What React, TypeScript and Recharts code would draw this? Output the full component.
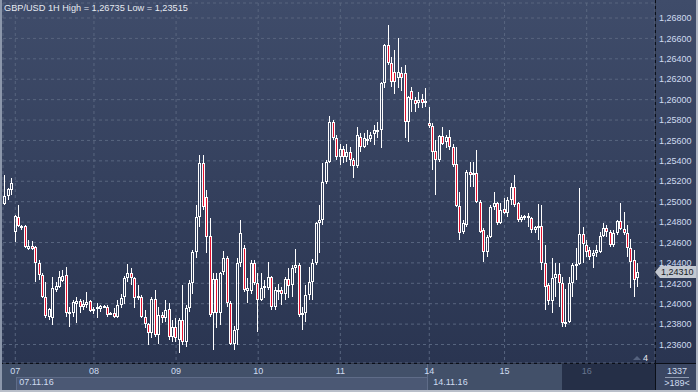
import React from 'react';
import { ComposedChart, Bar, XAxis, YAxis, CartesianGrid, ReferenceLine } from 'recharts';

type OHLC = [number, number, number, number]; // open, high, low, close

const symbol = 'GBP/USD';
const timeframe = '1H';

const sun06: OHLC[] = [
  [1.2498, 1.2526, 1.2497, 1.2506],
  [1.2506, 1.2513, 1.2502, 1.2512],
  [1.2511, 1.2523, 1.2507, 1.2518],
];
const day07: OHLC[] = [
  [1.2470, 1.2487, 1.2460, 1.2486], [1.2485, 1.2497, 1.2475, 1.2476], [1.2474, 1.2477, 1.2472, 1.2476],
  [1.2476, 1.2477, 1.2455, 1.2456], [1.2454, 1.2462, 1.2453, 1.2457], [1.2457, 1.2461, 1.2453, 1.2454],
  [1.2456, 1.2457, 1.2421, 1.2440], [1.2440, 1.2443, 1.2423, 1.2428], [1.2428, 1.2430, 1.2406, 1.2407],
  [1.2407, 1.2421, 1.2386, 1.2388], [1.2387, 1.2396, 1.2384, 1.2395], [1.2386, 1.2426, 1.2379, 1.2415],
  [1.2413, 1.2421, 1.2411, 1.2417], [1.2416, 1.2432, 1.2415, 1.2426], [1.2422, 1.2433, 1.2421, 1.2427],
  [1.2428, 1.2436, 1.2387, 1.2391], [1.2391, 1.2397, 1.2377, 1.2392], [1.2391, 1.2404, 1.2387, 1.2402],
  [1.2400, 1.2407, 1.2381, 1.2403], [1.2403, 1.2405, 1.2391, 1.2397], [1.2397, 1.2404, 1.2394, 1.2400],
  [1.2399, 1.2411, 1.2396, 1.2402], [1.2403, 1.2404, 1.2392, 1.2393],
];
const day08: OHLC[] = [
  [1.2393, 1.2397, 1.2390, 1.2395], [1.2395, 1.2401, 1.2386, 1.2397], [1.2395, 1.2399, 1.2392, 1.2398],
  [1.2397, 1.2399, 1.2396, 1.2398], [1.2397, 1.2399, 1.2387, 1.2389], [1.2391, 1.2392, 1.2389, 1.2390],
  [1.2391, 1.2396, 1.2386, 1.2387], [1.2387, 1.2404, 1.2386, 1.2399], [1.2399, 1.2410, 1.2396, 1.2406],
  [1.2407, 1.2427, 1.2400, 1.2425], [1.2425, 1.2439, 1.2421, 1.2430], [1.2430, 1.2435, 1.2418, 1.2425],
  [1.2425, 1.2426, 1.2396, 1.2406], [1.2406, 1.2418, 1.2404, 1.2408], [1.2407, 1.2409, 1.2386, 1.2387],
  [1.2387, 1.2394, 1.2376, 1.2380], [1.2380, 1.2381, 1.2360, 1.2371], [1.2371, 1.2407, 1.2366, 1.2405],
  [1.2405, 1.2413, 1.2367, 1.2369], [1.2369, 1.2397, 1.2361, 1.2389], [1.2389, 1.2392, 1.2381, 1.2386],
  [1.2386, 1.2404, 1.2382, 1.2394], [1.2395, 1.2401, 1.2364, 1.2367], [1.2367, 1.2384, 1.2362, 1.2377],
];
const day09: OHLC[] = [
  [1.2377, 1.2386, 1.2362, 1.2366], [1.2364, 1.2386, 1.23515, 1.2384], [1.2384, 1.2418, 1.2360, 1.2362],
  [1.2362, 1.2399, 1.2358, 1.2396], [1.2396, 1.2423, 1.2392, 1.2420], [1.2420, 1.2453, 1.2410, 1.2451],
  [1.2451, 1.2497, 1.2445, 1.2485], [1.2485, 1.2546, 1.2475, 1.2538], [1.2538, 1.2546, 1.2492, 1.2495],
  [1.2505, 1.2511, 1.2450, 1.2465], [1.2466, 1.2484, 1.2387, 1.2389], [1.2391, 1.2430, 1.2355, 1.2424],
  [1.2424, 1.2430, 1.2376, 1.2391], [1.2391, 1.2431, 1.2379, 1.2430], [1.2431, 1.2452, 1.2428, 1.2445],
  [1.2445, 1.2447, 1.2397, 1.2401], [1.2401, 1.2403, 1.2360, 1.2361], [1.2361, 1.2378, 1.2355, 1.2374],
  [1.2374, 1.2445, 1.2360, 1.2440], [1.2440, 1.2482, 1.2436, 1.2469], [1.2455, 1.2458, 1.2411, 1.2413],
  [1.2412, 1.2425, 1.2401, 1.2415], [1.2412, 1.2443, 1.2410, 1.2440], [1.2440, 1.2443, 1.2418, 1.2420],
];
const day10: OHLC[] = [
  [1.2420, 1.2430, 1.2372, 1.2404], [1.2404, 1.2430, 1.2403, 1.2415], [1.2415, 1.2423, 1.2406, 1.2417],
  [1.2415, 1.2441, 1.2413, 1.2426], [1.2426, 1.2427, 1.2394, 1.2397], [1.2397, 1.2416, 1.2394, 1.2413],
  [1.2411, 1.2419, 1.2404, 1.2413], [1.2413, 1.2416, 1.2399, 1.2410], [1.2410, 1.2426, 1.2404, 1.2424],
  [1.2424, 1.2435, 1.2406, 1.2417], [1.2418, 1.2438, 1.2407, 1.2435], [1.2435, 1.2454, 1.2430, 1.2438],
  [1.2438, 1.2440, 1.2387, 1.2389], [1.2389, 1.2397, 1.2374, 1.2391], [1.2391, 1.2418, 1.2382, 1.2409],
  [1.2409, 1.2436, 1.2404, 1.2421], [1.2421, 1.2444, 1.2404, 1.2440], [1.2440, 1.2480, 1.2438, 1.2479],
  [1.2479, 1.2497, 1.2450, 1.2482], [1.2482, 1.2538, 1.2477, 1.2519], [1.2519, 1.2541, 1.2517, 1.2539],
  [1.2539, 1.2584, 1.2538, 1.2578], [1.2578, 1.2580, 1.2560, 1.2562], [1.2562, 1.2565, 1.2541, 1.2544],
];
const day11: OHLC[] = [
  [1.2544, 1.2557, 1.2536, 1.2552], [1.2552, 1.2555, 1.2538, 1.2544], [1.2544, 1.2557, 1.2539, 1.2549],
  [1.2549, 1.2554, 1.2535, 1.2541], [1.2541, 1.2543, 1.2523, 1.2535], [1.2535, 1.2573, 1.2533, 1.2565],
  [1.2563, 1.2567, 1.2549, 1.2554], [1.2554, 1.2567, 1.2553, 1.2562], [1.2560, 1.2570, 1.2556, 1.2561],
  [1.2561, 1.2568, 1.2558, 1.2565], [1.2566, 1.2575, 1.2556, 1.2570], [1.2569, 1.2578, 1.2562, 1.2570],
  [1.2570, 1.2617, 1.2553, 1.2616], [1.2616, 1.2655, 1.2611, 1.2654], [1.2654, 1.26735, 1.2634, 1.2636],
  [1.2636, 1.2642, 1.2612, 1.2617], [1.2627, 1.2649, 1.2606, 1.2617], [1.2621, 1.2660, 1.2611, 1.2627],
  [1.2626, 1.2632, 1.2608, 1.2621], [1.2626, 1.2634, 1.2562, 1.2578], [1.2578, 1.2604, 1.2558, 1.2603],
  [1.2608, 1.2612, 1.2588, 1.2600], [1.2600, 1.2603, 1.2588, 1.2596], [1.2597, 1.2607, 1.2592, 1.2600],
  [1.2601, 1.2606, 1.2592, 1.2597], [1.2597, 1.2611, 1.2593, 1.2599],
];
const day14: OHLC[] = [
  [1.2577, 1.2593, 1.2572, 1.2574], [1.2574, 1.2577, 1.2531, 1.2549], [1.2550, 1.2560, 1.2507, 1.2541],
  [1.2541, 1.2565, 1.2539, 1.2564], [1.2564, 1.2573, 1.2556, 1.2557], [1.2558, 1.2565, 1.2553, 1.2563],
  [1.2563, 1.2570, 1.2551, 1.2554], [1.2554, 1.2557, 1.2534, 1.2536], [1.2537, 1.2554, 1.2495, 1.2496],
  [1.2496, 1.2509, 1.2462, 1.2469], [1.2470, 1.2482, 1.2468, 1.2479], [1.2477, 1.2531, 1.2475, 1.2529],
  [1.2529, 1.2539, 1.2514, 1.2526], [1.2526, 1.2539, 1.2514, 1.2528], [1.2528, 1.2551, 1.2499, 1.2500],
  [1.2500, 1.2502, 1.2469, 1.2470], [1.2472, 1.2474, 1.2441, 1.2451], [1.2451, 1.2467, 1.2446, 1.2465],
  [1.2465, 1.2497, 1.2464, 1.2495], [1.2495, 1.2509, 1.2492, 1.2499], [1.2499, 1.2500, 1.2477, 1.2479],
  [1.2479, 1.2499, 1.2478, 1.2492],
];
const day15: OHLC[] = [
  [1.2493, 1.2504, 1.2488, 1.2489], [1.2489, 1.2505, 1.2485, 1.2502], [1.2502, 1.2518, 1.2497, 1.2514],
  [1.2514, 1.2526, 1.2495, 1.2497], [1.2499, 1.2500, 1.2480, 1.2482], [1.2482, 1.2487, 1.2480, 1.2485],
  [1.2485, 1.2487, 1.2482, 1.2486], [1.2486, 1.2489, 1.2475, 1.2484], [1.2484, 1.2485, 1.2469, 1.2472],
  [1.2472, 1.2476, 1.2469, 1.2475], [1.2474, 1.2498, 1.2462, 1.2476], [1.2476, 1.2497, 1.2433, 1.2440],
  [1.2440, 1.2458, 1.2394, 1.2416], [1.2418, 1.2420, 1.2399, 1.2403], [1.2403, 1.2445, 1.2391, 1.2425],
  [1.2425, 1.2440, 1.2407, 1.2429], [1.2429, 1.2440, 1.2397, 1.2420], [1.2420, 1.2426, 1.2377, 1.2381],
  [1.2381, 1.2414, 1.2377, 1.2382], [1.2382, 1.2426, 1.2381, 1.2420], [1.2420, 1.2440, 1.2407, 1.2438],
  [1.2438, 1.2455, 1.2423, 1.2439], [1.2439, 1.2513, 1.2438, 1.2468], [1.2468, 1.2475, 1.2440, 1.2459],
];
const day16: OHLC[] = [
  [1.2458, 1.2462, 1.2446, 1.2451], [1.2453, 1.2456, 1.2443, 1.2446], [1.2447, 1.2453, 1.2435, 1.2450],
  [1.2450, 1.2458, 1.2446, 1.2453], [1.2451, 1.2470, 1.2450, 1.2466], [1.2466, 1.2479, 1.2465, 1.2474],
  [1.2474, 1.2477, 1.2465, 1.2470], [1.2470, 1.2472, 1.2456, 1.2458], [1.2458, 1.2472, 1.2456, 1.2469],
  [1.2469, 1.2482, 1.2467, 1.2481], [1.2481, 1.2499, 1.2472, 1.2473], [1.2473, 1.2490, 1.2467, 1.2469],
  [1.2469, 1.2477, 1.2446, 1.2455], [1.2455, 1.2463, 1.2415, 1.2441], [1.2443, 1.2453, 1.2407, 1.2423],
  [1.2425, 1.2440, 1.2416, 1.2431],
];

const segments: OHLC[][] = [sun06, day07, day08, day09, day10, day11, day14, day15, day16];
const segmentLabels = ['', '07', '08', '09', '10', '11', '14', '15', '16'];
const weekLabels: Record<string, string> = { '07': '07.11.16', '14': '14.11.16' };
const priceTicks = [1.236, 1.238, 1.24, 1.242, 1.244, 1.246, 1.248, 1.25, 1.252, 1.254, 1.256, 1.258, 1.26, 1.262, 1.264, 1.266, 1.268];
const priceDomain = [1.23419, 1.26947];
const xDomain = [-0.585, 189.97];
const barCountText = '1337';
const visibleText = '>189<';
const markerText = '4';

type Row = { i: number; o: number; h: number; l: number; c: number; range: [number, number] };
const data: Row[] = [];
const dayTicks: number[] = [];
const dayTickLabel: Record<number, string> = {};
const weekTicks: number[] = [];
const weekTickLabel: Record<number, string> = {};
segments.forEach((seg, s) => {
  const label = segmentLabels[s];
  if (label) {
    dayTicks.push(data.length);
    dayTickLabel[data.length] = label;
    if (weekLabels[label]) {
      weekTicks.push(data.length);
      weekTickLabel[data.length] = weekLabels[label];
    }
  }
  seg.forEach(([o, h, l, c]) => data.push({ i: data.length, o, h, l, c, range: [l, h] }));
});

const maxHigh = Math.max(...data.map((d) => d.h));
const minLow = Math.min(...data.map((d) => d.l));
const lastClose = data[data.length - 1].c;
const fmt = (v: number) => v.toFixed(5).replace('.', ',');

const FONT = '"Liberation Sans", Arial, sans-serif';
const RED = '#e3122f';
const TICK = '#cfdcf0';

function Candle(props: any) {
  const { x, y, width, height, payload } = props;
  if (!payload || x == null || y == null || height == null) return null;
  const { o, h, l, c } = payload as Row;
  const top = Math.min(y, y + height);
  const bot = Math.max(y, y + height);
  const span = h - l;
  const py = (v: number) => (span > 0 ? top + ((h - v) / span) * (bot - top) : top);
  const cx = Math.floor(x + width / 2);
  const yH = Math.round(top);
  const yL = Math.round(bot);
  const bTop = Math.round(py(Math.max(o, c)));
  let bBot = Math.round(py(Math.min(o, c)));
  if (bBot - bTop < 2) bBot = bTop + 2;
  const bear = c < o;
  return (
    <g>
      {bTop > yH && <line x1={cx + 0.5} x2={cx + 0.5} y1={yH} y2={bTop} stroke="#ffffff" strokeWidth={1} />}
      {yL > bBot && <line x1={cx + 0.5} x2={cx + 0.5} y1={bBot} y2={yL} stroke="#ffffff" strokeWidth={1} />}
      <rect x={cx - 0.5} y={bTop + 0.5} width={2} height={bBot - bTop - 1} fill={bear ? RED : 'none'} stroke="#ffffff" strokeWidth={1} />
    </g>
  );
}

function DayTick(props: any) {
  const { x, y, payload } = props;
  const last = payload.value === dayTicks[dayTicks.length - 1];
  return (
    <text x={x} y={y} dy="0.71em" textAnchor="middle" fill={last ? '#67758f' : TICK} fontSize={9} fontFamily={FONT}>
      {dayTickLabel[payload.value]}
    </text>
  );
}

function WeekTick(props: any) {
  const { x, y, payload } = props;
  return (
    <text x={x + 4} y={y} dy="0.71em" textAnchor="start" fill={TICK} fontSize={9} fontFamily={FONT}>
      {weekTickLabel[payload.value]}
    </text>
  );
}

function PriceTag(props: any) {
  const vb = props.viewBox || {};
  const y = vb.y;
  const x0 = (vb.x || 0) + (vb.width || 0);
  if (y == null) return null;
  return (
    <g>
      <polygon points={`${x0},${y} ${x0 + 5},${y - 6} ${x0 + 41},${y - 6} ${x0 + 41},${y + 6} ${x0 + 5},${y + 6}`} fill="#c3c8d1" />
      <text x={x0 + 6} y={y} dy="0.355em" fill="#151a24" fontSize={9} fontFamily={FONT}>
        {fmt(lastClose)}
      </text>
    </g>
  );
}

const abs = (l: number, t: number, w: number, h: number, extra: React.CSSProperties = {}): React.CSSProperties => ({
  position: 'absolute',
  left: l,
  top: t,
  width: w,
  height: h,
  ...extra,
});

export default function App() {
  return (
    <div style={{ position: 'fixed', left: 0, top: 0, width: 698, height: 392, overflow: 'hidden', background: '#3a4662' }}>
      <div style={abs(0, 0, 698, 363, { background: 'linear-gradient(to bottom, #3f4c6a, #2a3551)' })} />
      <div style={abs(0, 364, 698, 28, { background: '#425069' })} />
      <div style={abs(16, 377, 411, 13, { background: '#4b5874', borderTop: '1px solid #5f6c88', borderLeft: '1px solid #5f6c88', boxSizing: 'border-box' })} />
      <div style={abs(427, 364, 1, 28, { background: '#5f6c88' })} />
      <div style={abs(562, 364, 93, 26, { background: '#252f47' })} />
      <div style={abs(656, 364, 42, 28, { background: '#3a4662' })} />
      <div style={abs(0, 363, 698, 1, { background: '#0b0f18' })} />
      <div style={abs(655, 0, 1, 392, { background: '#0b0f18' })} />

      <div style={abs(0, 0, 698, 392)}>
        <ComposedChart width={698} height={392} data={data} margin={{ top: 3, right: 0, bottom: 0, left: 3 }}>
          <CartesianGrid stroke="#58657f" strokeDasharray="3 3" />
          <XAxis
            xAxisId={0}
            dataKey="i"
            type="number"
            domain={xDomain}
            allowDataOverflow
            ticks={dayTicks}
            interval={0}
            height={14}
            tickSize={0}
            tickMargin={5}
            tickLine={false}
            axisLine={false}
            tick={<DayTick />}
          />
          <XAxis
            xAxisId="weeks"
            dataKey="i"
            type="number"
            domain={xDomain}
            allowDataOverflow
            ticks={weekTicks}
            interval={0}
            height={15}
            tickSize={0}
            tickMargin={2}
            tickLine={false}
            axisLine={false}
            tick={<WeekTick />}
          />
          <YAxis
            orientation="right"
            type="number"
            domain={priceDomain}
            allowDataOverflow
            ticks={priceTicks}
            interval={0}
            width={43}
            tickSize={0}
            tickMargin={4}
            tickLine={false}
            axisLine={false}
            tickFormatter={fmt}
            tick={{ fill: TICK, fontSize: 9, fontFamily: FONT }}
          />
          <Bar dataKey="range" barSize={3} shape={<Candle />} isAnimationActive={false} />
          <ReferenceLine y={lastClose} stroke="none" label={(p: any) => <PriceTag {...p} />} />
        </ComposedChart>
      </div>

      <svg width={698} height={392} style={{ position: 'absolute', left: 0, top: 0, pointerEvents: 'none' }}>
        <text x={4} y={11} fill="#e6eaf1" fontSize={9.2} fontFamily={FONT}>
          {`${symbol} ${timeframe} High = ${fmt(maxHigh)} Low = ${fmt(minLow)}`}
        </text>
        <polygon points="633,360 637,356 641,360" fill="#55627e" />
        <text x={643} y={361} fill="#e6eaf1" fontSize={9} fontFamily={FONT}>{markerText}</text>
        <text x={677} y={374} textAnchor="middle" fill={TICK} fontSize={9} fontFamily={FONT}>{barCountText}</text>
        <line x1={665} x2={689} y1={377.5} y2={377.5} stroke="#8f9ab0" strokeWidth={1} />
        <text x={677} y={386} textAnchor="middle" fill={TICK} fontSize={9} fontFamily={FONT}>{visibleText}</text>
      </svg>

      <div style={abs(0, 0, 2, 392, { background: '#8c97ab' })} />
      <div style={abs(0, 390, 698, 2, { background: '#b9bfca' })} />
      <div style={abs(696, 0, 2, 392, { background: '#b0b7c4' })} />
    </div>
  );
}
